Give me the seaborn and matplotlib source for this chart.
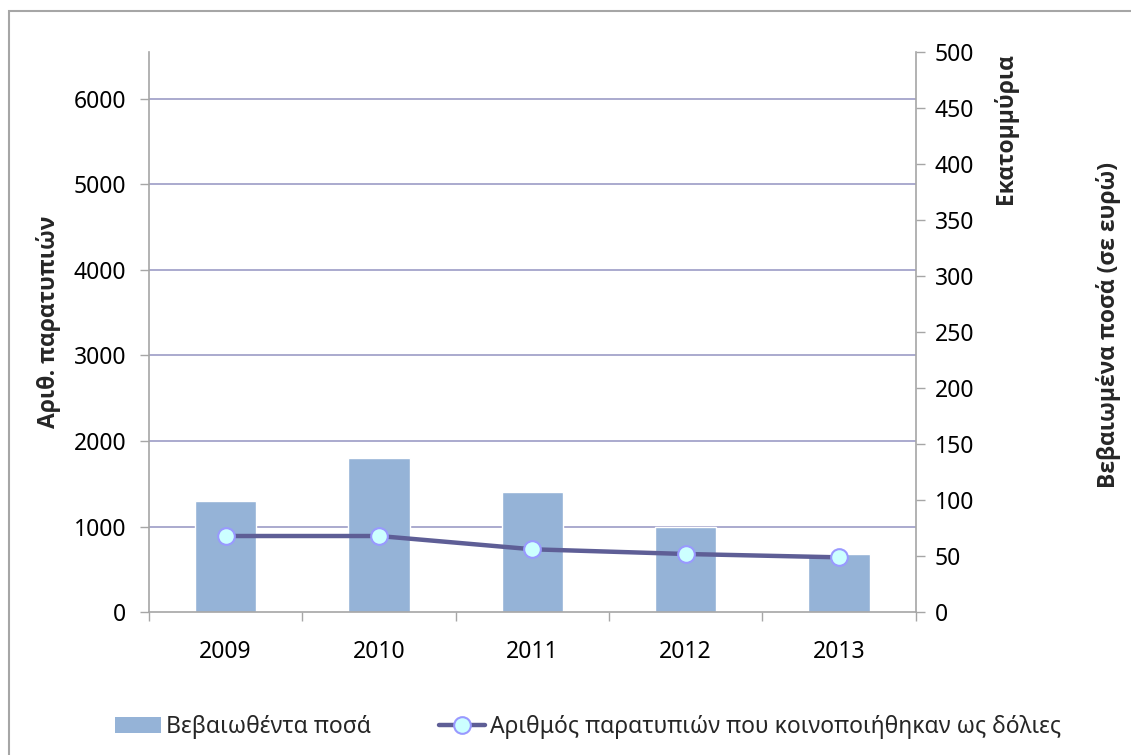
import matplotlib
matplotlib.use("Agg")
import matplotlib.pyplot as plt
import matplotlib.transforms as mtransforms
from matplotlib.lines import Line2D
from matplotlib.patches import Patch, Rectangle
import numpy as np
import seaborn as sns

sns.set_theme(style="white")
plt.rcParams["font.family"] = ["Noto Sans", "DejaVu Sans"]

# Δεδομένα (εκτίμηση από το γράφημα)
years = ["2009", "2010", "2011", "2012", "2013"]
amounts_mio = [99, 138, 107, 76, 52]          # Βεβαιωθέντα ποσά (εκατ. ευρώ)
fraud_counts = [891, 891, 736, 681, 642]      # Αριθμός παρατυπιών (δόλιες)
left_ticks = [0, 1000, 2000, 3000, 4000, 5000, 6000]
right_ticks = [0, 50, 100, 150, 200, 250, 300, 350, 400, 450, 500]

bar_label = "Βεβαιωθέντα ποσά"
line_label = "Αριθμός παρατυπιών που κοινοποιήθηκαν ως δόλιες"

BAR_COLOR = "#95B3D7"
LINE_COLOR = "#5E5E96"
GRID_COLOR = "#A4A4CA"
AXIS_COLOR = "#A6A6A6"
FS = 16.5
BOLD_FAMILY = ["Open Sans", "DejaVu Sans"]

fig = plt.figure(figsize=(11.31, 7.55), dpi=100)
ax = fig.add_axes([0.1317, 0.189, 0.678, 0.7417])
ax2 = ax.twinx()

# Ράβδοι στον δεξιό άξονα
sns.barplot(x=years, y=amounts_mio, color=BAR_COLOR, width=0.4,
            saturation=1, ax=ax2, zorder=2)
ax2.set_ylim(0, 500)
ax2.set_yticks(right_ticks)
ax2.set_ylabel("")
ax2.set_xlabel("")

# Γραμμές πλέγματος στις τιμές του αριστερού άξονα, πίσω από τις ράβδους
blend = mtransforms.blended_transform_factory(ax2.transAxes, ax.transData)
for v in left_ticks[1:]:
    ax2.plot([0, 1], [v, v], transform=blend, color=GRID_COLOR, lw=1.3, zorder=0)

# Γραμμή στον αριστερό άξονα
x_pos = np.arange(len(years))
sns.lineplot(x=x_pos, y=fraud_counts, ax=ax, color=LINE_COLOR, lw=3.2,
             marker="o", markersize=12, markerfacecolor="#CCFFFF",
             markeredgecolor="#9999FF", markeredgewidth=1.5, zorder=3)
ax.set_ylim(0, 6540)
ax.set_yticks(left_ticks)
ax.set_zorder(ax2.get_zorder() + 1)
ax.patch.set_visible(False)

# Άξονας x: υποδιαιρέσεις ανάμεσα στις κατηγορίες
ax.set_xlim(-0.5, len(years) - 0.5)
ax.set_xticks(np.arange(-0.5, len(years), 1))
ax.set_xticklabels([])
ax.set_xticks(x_pos, labels=years, minor=True)
ax.tick_params(axis="x", which="major", bottom=True, length=6.5, width=1,
               color=AXIS_COLOR, direction="out")
ax.tick_params(axis="x", which="minor", bottom=True, length=0, pad=20,
               labelsize=FS, labelcolor="black")
ax.tick_params(axis="y", left=True, length=6.5, width=1, color=AXIS_COLOR,
               direction="out", pad=10, labelsize=FS, labelcolor="black")
ax2.tick_params(axis="y", right=True, length=6.5, width=1, color=AXIS_COLOR,
                direction="out", pad=7, labelsize=FS, labelcolor="black")

for a in (ax, ax2):
    for s in a.spines.values():
        s.set_color(AXIS_COLOR)
        s.set_linewidth(1.2)
    a.spines["top"].set_visible(False)
ax.spines["right"].set_visible(False)
ax2.spines["left"].set_visible(False)
ax2.spines["bottom"].set_visible(False)
ax.grid(False)
ax2.grid(False)

# Τίτλοι αξόνων
fig.text(0.0433, 0.574, "Αριθ. παρατυπιών", rotation=90, ha="center",
         va="center", fontsize=FS, fontweight="bold", family=BOLD_FAMILY)
fig.text(0.889, 0.830, "Εκατομμύρια", rotation=90, ha="center",
         va="center", fontsize=FS, fontweight="bold", family=BOLD_FAMILY)
fig.text(0.9797, 0.570, "Βεβαιωμένα ποσά (σε ευρώ)", rotation=90,
         ha="center", va="center", fontsize=FS, fontweight="bold",
         family=BOLD_FAMILY)

# Υπόμνημα
handles = [
    Patch(facecolor=BAR_COLOR, edgecolor="none", label=bar_label),
    Line2D([], [], color=LINE_COLOR, lw=3.2, marker="o", markersize=12,
           markerfacecolor="#CCFFFF", markeredgecolor="#9999FF",
           markeredgewidth=1.5, label=line_label),
]
fig.legend(handles=handles, loc="center", bbox_to_anchor=(0.52, 0.037),
           ncol=2, frameon=False, fontsize=FS, handlelength=2.0,
           handletextpad=0.2, columnspacing=3.0)

# Πλαίσιο περιοχής γραφήματος
fig.add_artist(Rectangle((9 / 1131, -0.1), 1.2, (755 - 11) / 755 + 0.1,
                         transform=fig.transFigure, fill=False,
                         edgecolor=AXIS_COLOR, lw=1.5))

fig.savefig("out.png", dpi=100)
